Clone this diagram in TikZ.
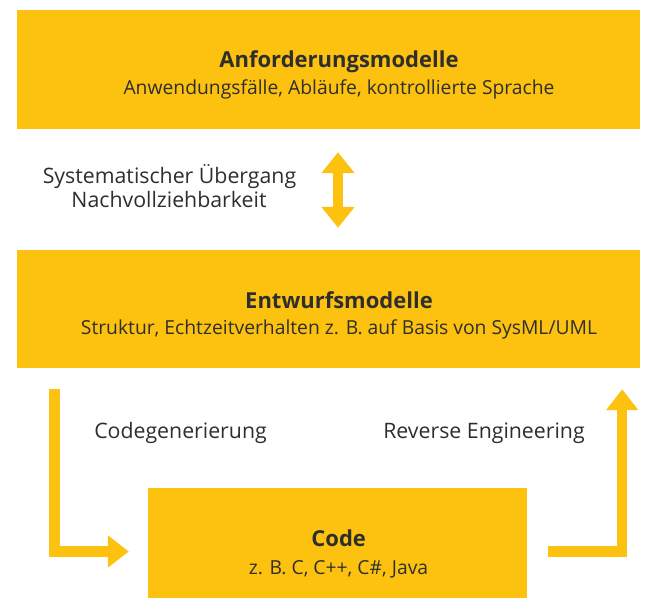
\documentclass[tikz,border=0pt]{standalone}
\usepackage{fontspec}
\setmainfont{Open Sans}
\usetikzlibrary{arrows.meta,calc}
\definecolor{fyel}{HTML}{FDC210}
\definecolor{ftxt}{HTML}{2E2E2E}
\tikzset{
  box/.style={fill=fyel, draw=none, inner sep=0pt},
  ttl/.style={text=ftxt, font=\fontsize{22}{24}\selectfont\bfseries, inner sep=0pt, anchor=base},
  sub/.style={text=ftxt, font=\fontsize{19.3}{22}\selectfont, inner sep=0pt, anchor=base},
  lbl/.style={text=ftxt, font=\fontsize{21.3}{24}\selectfont, inner sep=0pt, anchor=base},
  bigarrow/.style={draw=fyel, line width=10.5pt, line cap=butt, line join=miter,
    -{Triangle[width=31pt,length=21pt]}},
  dblarrow/.style={draw=fyel, line width=10pt, line cap=butt,
    {Triangle[width=32pt,length=21pt]}-{Triangle[width=32pt,length=21pt]}}
}
\begin{document}
\begin{tikzpicture}[x=1pt,y=-1pt]
\useasboundingbox (0,0) rectangle (647,600);
% boxes
\node[box, minimum width=623pt, minimum height=119pt] (req) at (328.5,69.5) {};
\node[box, minimum width=623pt, minimum height=118pt] (des) at (328.5,309) {};
\node[box, minimum width=379pt, minimum height=110pt] (code) at (337.5,543) {};
% texts in boxes
\node[ttl] (reqT) at (339,67.3) {Anforderungsmodelle};
\node[sub] (reqS) at (339,94.3) {Anwendungsfälle, Abläufe, kontrollierte Sprache};
\node[ttl] (desT) at (339,308) {Entwurfsmodelle};
\node[sub] (desS) at (339,334.3) {Struktur, Echtzeitverhalten z. B. auf Basis von SysML/UML};
\node[ttl] (codeT) at (338.7,546.5) {Code};
\node[sub] (codeS) at (338.5,574.5) {z. B. C, C++, C\#, Java};
% labels
\node[lbl] (sysT) at (169.5,183) {Systematischer Übergang};
\node[lbl] (sysS) at (169,207.7) {Nachvollziehbarkeit};
\node[lbl] (cg) at (180.5,438) {Codegenerierung};
\node[lbl] (re) at (484,438) {Reverse Engineering};
% double arrow
\coordinate (dTop) at ($(req.south)+(9.5,23)$);
\coordinate (dBot) at ($(des.north)+(9.5,-22)$);
\draw[dblarrow] (dTop) -- (dBot);
% left L-arrow
\coordinate (lStart) at ($(des.south west)+(37.5,21)$);
\coordinate (lEnd) at ($(code.west)+(-19,8.5)$);
\draw[bigarrow] (lStart) -- (lStart |- lEnd) -- (lEnd);
% right L-arrow
\coordinate (rStart) at ($(code.east)+(21,8.5)$);
\coordinate (rEnd) at ($(des.south east)+(-18,21)$);
\draw[bigarrow] (rStart) -- (rStart -| rEnd) -- (rEnd);
\end{tikzpicture}
\end{document}
